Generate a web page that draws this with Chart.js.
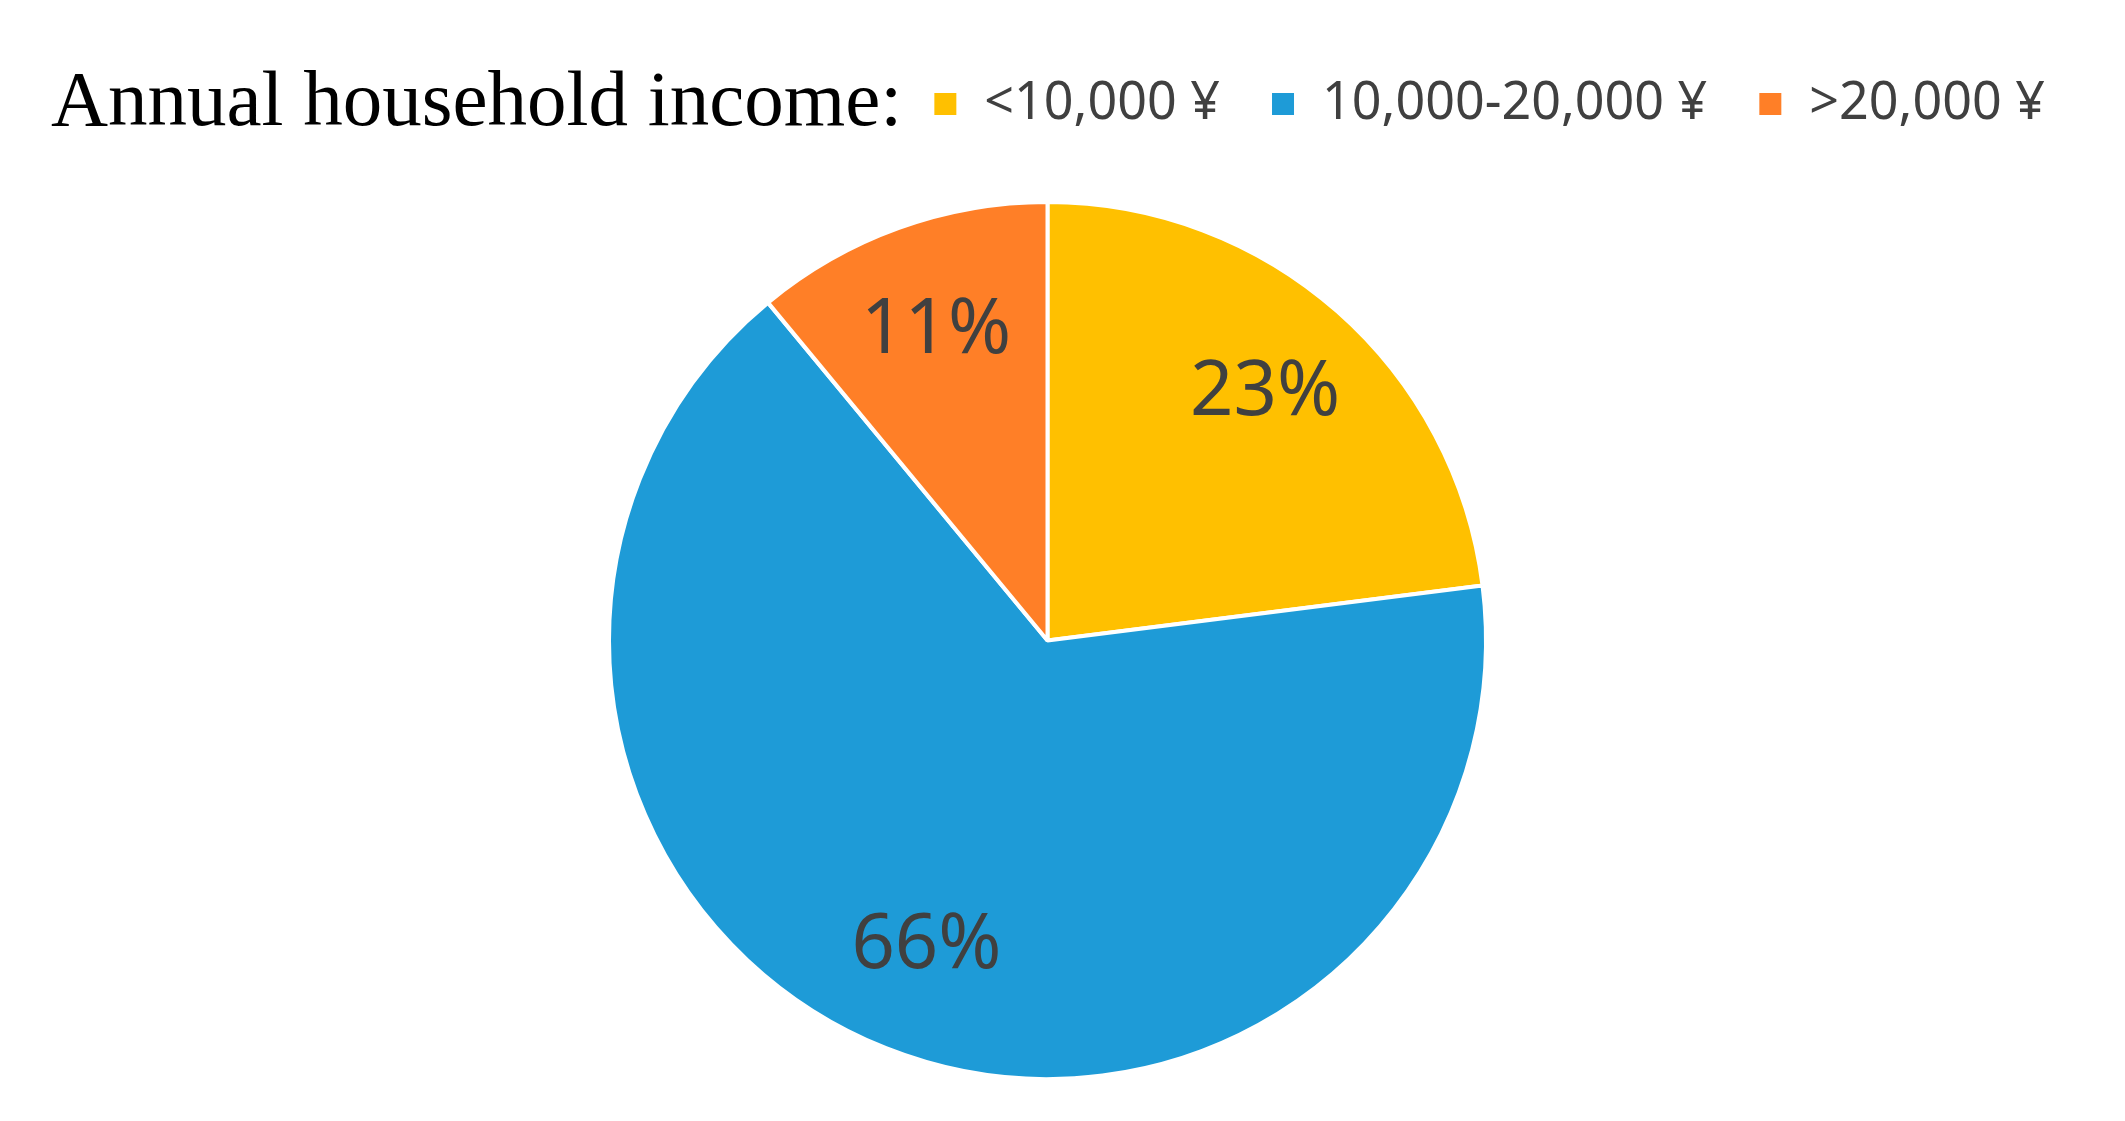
<!DOCTYPE html>
<html><head><meta charset="utf-8">
<script src="https://cdn.jsdelivr.net/npm/chart.js@4"></script>
<style>html,body{margin:0;padding:0;background:#fff}#wrap{width:2125px;height:1121px}</style>
</head><body><div id="wrap"><canvas id="c"></canvas></div>
<script>
const titleText = "Annual household income:";
const categories = ["<10,000 ¥", "10,000-20,000 ¥", ">20,000 ¥"];
const values = [23, 66, 11];
const colors = ["#FFC000", "#1E9BD7", "#FF7F27"];

const titlePlugin = {
  id: 'leftTitle',
  afterInit(chart) {
    const lg = chart.legend;
    const orig = lg.fit;
    lg.fit = function () { orig.call(this); this.height += 60; };
  },
  afterDraw(chart) {
    const ctx = chart.ctx;
    const lg = chart.legend;
    const y = lg.legendHitBoxes.length ? lg.legendHitBoxes[0].top + lg.legendHitBoxes[0].height/2 : 80;
    ctx.save();
    ctx.font = '79px "Liberation Serif", serif';
    ctx.fillStyle = '#000';
    ctx.textBaseline = 'middle';
    ctx.fillText(titleText, 51, y);
    ctx.restore();
  }
};
const labelPlugin = {
  id: 'sliceLabels',
  afterDatasetsDraw(chart) {
    const ctx = chart.ctx;
    const meta = chart.getDatasetMeta(0);
    ctx.save();
    ctx.font = '76px "Noto Sans", sans-serif';
    ctx.fillStyle = '#404040';
    ctx.textAlign = 'center';
    ctx.textBaseline = 'middle';
    meta.data.forEach((arc, i) => {
      const p = arc.getProps(['x','y','startAngle','endAngle','outerRadius'], true);
      const a = (p.startAngle + p.endAngle) / 2;
      const d = p.outerRadius * 0.75;
      ctx.fillText(values[i] + '%', p.x + Math.cos(a) * d, p.y + Math.sin(a) * d);
    });
    ctx.restore();
  }
};

new Chart(document.getElementById('c'), {
  type: 'pie',
  data: { labels: categories, datasets: [{ data: values, backgroundColor: colors, borderColor: '#fff', borderWidth: 4 }] },
  options: {
    responsive: true, maintainAspectRatio: false, animation: false,
    layout: { padding: { top: 28, bottom: 40, right: 30 } },
    plugins: {
      tooltip: { enabled: false },
      legend: {
        position: 'top', align: 'end',
        labels: { boxWidth: 26, boxHeight: 26, padding: 50, color: '#404040',
          font: { family: '"Noto Sans", sans-serif', size: 52 } }
      }
    }
  },
  plugins: [titlePlugin, labelPlugin]
});
</script></body></html>
